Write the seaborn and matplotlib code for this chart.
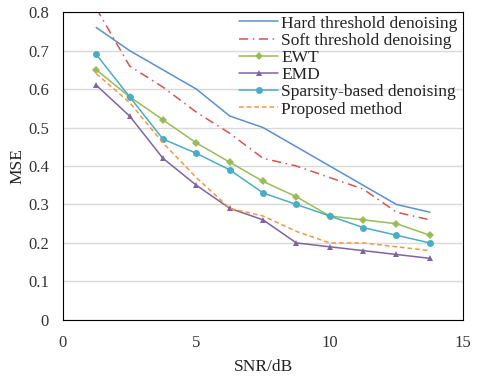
import numpy as np
import pandas as pd
import seaborn as sns
from matplotlib import pyplot as plt

snr = [1.25, 2.5, 3.75, 5, 6.25, 7.5, 8.75, 10, 11.25, 12.5, 13.75]
hard = [0.76, 0.70, 0.65, 0.60, 0.53, 0.50, 0.45, 0.40, 0.35, 0.30, 0.28]
soft = [0.81, 0.66, 0.605, 0.54, 0.485, 0.42, 0.40, 0.37, 0.34, 0.28, 0.26]
ewt = [0.65, 0.58, 0.52, 0.46, 0.41, 0.36, 0.32, 0.27, 0.26, 0.25, 0.22]
emd = [0.61, 0.53, 0.42, 0.35, 0.29, 0.26, 0.20, 0.19, 0.18, 0.17, 0.16]
sparse = [0.69, 0.58, 0.47, 0.433, 0.39, 0.33, 0.30, 0.27, 0.24, 0.22, 0.20]
proposed = [0.64, 0.565, 0.46, 0.37, 0.29, 0.27, 0.23, 0.20, 0.20, 0.19, 0.18]

names = ["Hard threshold denoising", "Soft threshold denoising", "EWT", "EMD",
         "Sparsity-based denoising", "Proposed method"]
series = [hard, soft, ewt, emd, sparse, proposed]
colors = ["#5B8FD0", "#D9534F", "#9BBB59", "#8064A2", "#4BACC6", "#F79646"]
markers = ["", "", "D", "^", "o", ""]
styles = ["-", (0, (6, 3, 1, 3)), "-", "-", "-", (0, (3, 2))]
msizes = [0, 0, 4, 5, 5, 0]

df = pd.DataFrame({"SNR": snr * len(names),
                   "MSE": sum(series, []),
                   "method": np.repeat(names, len(snr))})

sns.set_style("white")
plt.rcParams['font.family'] = ['Liberation Serif', 'DejaVu Serif']

fig = plt.figure(figsize=(4.8, 3.79), dpi=100)
ax = fig.add_axes([0.131, 0.156, 0.834, 0.812])

for i, name in enumerate(names):
    sns.lineplot(data=df[df.method == name], x="SNR", y="MSE", ax=ax, color=colors[i],
                 linestyle=styles[i], linewidth=1.1, marker=markers[i] if markers[i] else None,
                 markersize=msizes[i], markeredgewidth=0, label=name)

ax.set_xlim(0, 15)
ax.set_ylim(0, 0.8)
ax.set_xticks([0, 5, 10, 15])
ax.set_yticks(np.arange(0, 0.81, 0.1))
ax.set_yticklabels(["0" if v == 0 else f"{v:.1f}" for v in np.arange(0, 0.81, 0.1)])
ax.yaxis.grid(True, color="#d9d9d9", linewidth=1)
ax.set_axisbelow(True)
for s in ax.spines.values():
    s.set_color("black")
    s.set_linewidth(0.8)
ax.tick_params(direction="in", length=4, labelsize=12, colors="#333333")
ax.tick_params(axis="y", pad=10)
ax.tick_params(axis="x", pad=11)
ax.set_xlabel("SNR/dB", fontsize=12.5, color="#222222", labelpad=6)
ax.set_ylabel("MSE", fontsize=12.5, color="#222222", labelpad=2)

leg = ax.legend(loc="upper right", frameon=False, fontsize=12.5, handlelength=2.25,
                handletextpad=0.15, labelspacing=0.06, borderaxespad=0.0,
                borderpad=0.1, bbox_to_anchor=(0.99, 0.995))
for t in leg.get_texts():
    t.set_color("#222222")

plt.savefig("out.png", dpi=100)
